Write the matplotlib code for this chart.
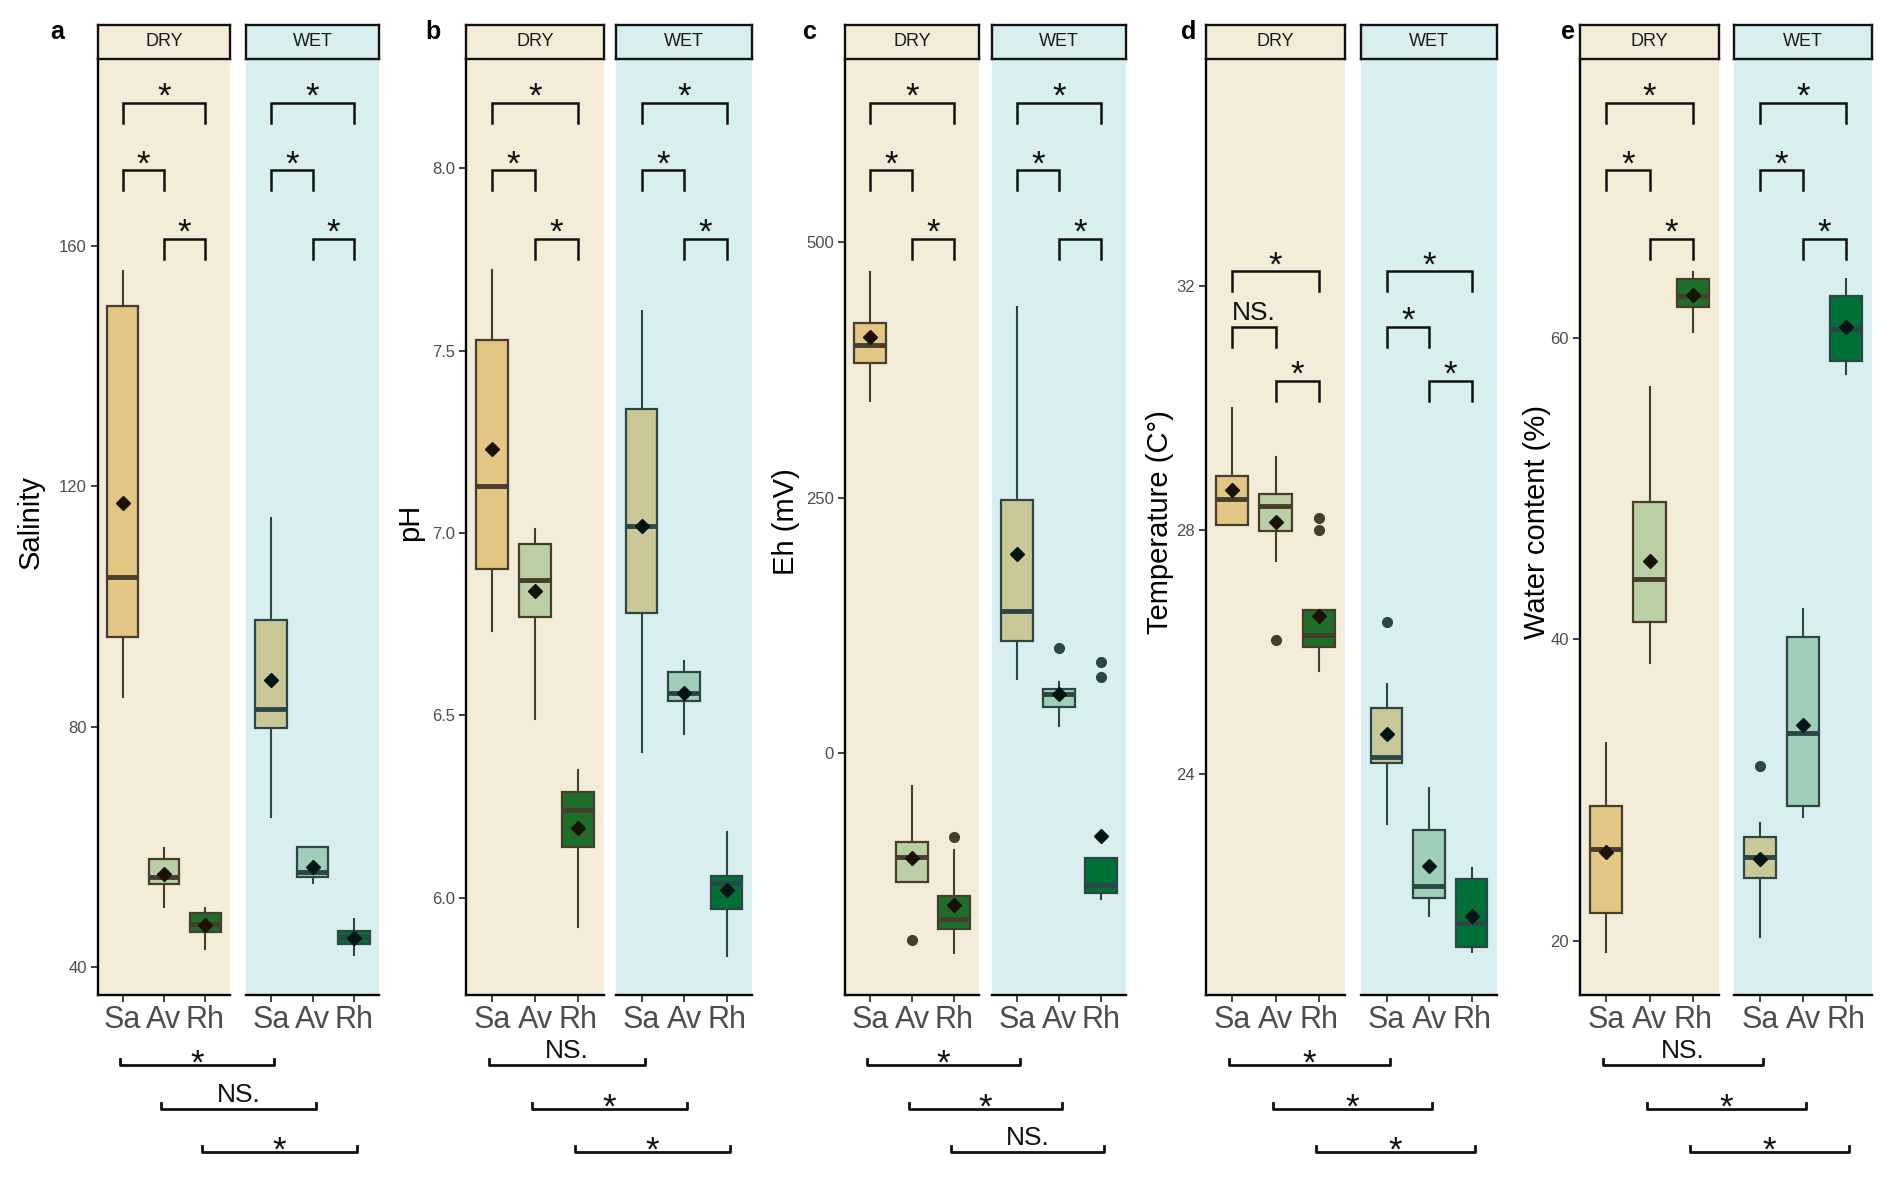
import numpy as np
import matplotlib
matplotlib.use("Agg")
import matplotlib.pyplot as plt

plt.rcParams['font.family'] = ['Liberation Sans', 'DejaVu Sans']

plants = ['Sa', 'Av', 'Rh']
seasons = ['DRY', 'WET']

# box stats per plant: [whisker low, q1, median, q3, whisker high]
sal_dry = [[84.9, 94.9, 104.9, 150.0, 155.9], [50.0, 53.8, 54.9, 58.0, 59.8], [43.0, 45.8, 47.1, 48.9, 49.8]]
sal_dry_mean = [117.2, 55.4, 46.9]
sal_dry_out = [[], [], []]
sal_wet = [[64.9, 79.8, 82.9, 97.8, 114.7], [54.0, 54.9, 55.8, 60.0, 60.0], [42.0, 43.8, 44.9, 46.0, 47.9]]
sal_wet_mean = [87.8, 56.6, 44.8]
sal_wet_out = [[], [], []]

ph_dry = [[6.73, 6.90, 7.13, 7.53, 7.72], [6.49, 6.77, 6.87, 6.97, 7.01], [5.92, 6.14, 6.24, 6.29, 6.35]]
ph_dry_mean = [7.23, 6.84, 6.19]
ph_dry_out = [[], [], []]
ph_wet = [[6.40, 6.78, 7.02, 7.34, 7.61], [6.45, 6.54, 6.56, 6.62, 6.65], [5.84, 5.97, 6.04, 6.06, 6.18]]
ph_wet_mean = [7.02, 6.56, 6.02]
ph_wet_out = [[], [], []]

eh_dry = [[345, 382, 400, 421, 471], [-126, -126, -101, -87, -32], [-195, -172, -162, -140, -95]]
eh_dry_mean = [407, -102, -148]
eh_dry_out = [[], [-183], [-82]]
eh_wet = [[73, 110, 139, 248, 437], [27, 45, 58, 63, 70], [-142, -137, -129, -102, -102]]
eh_wet_mean = [195, 58, -81]
eh_wet_out = [[], [103], [89, 75]]

temp_dry = [[28.09, 28.09, 28.51, 28.89, 29.99], [27.50, 27.99, 28.39, 28.59, 29.19], [25.69, 26.09, 26.29, 26.69, 26.69]]
temp_dry_mean = [28.66, 28.13, 26.60]
temp_dry_out = [[], [26.20], [28.20, 28.00]]
temp_wet = [[23.19, 24.18, 24.29, 25.09, 25.48], [21.69, 21.98, 22.18, 23.09, 23.77], [21.09, 21.17, 21.57, 22.29, 22.47]]
temp_wet_mean = [24.66, 22.50, 21.68]
temp_wet_out = [[26.49], [], []]

wc_dry = [[19.23, 21.86, 26.08, 28.94, 33.10], [38.41, 41.13, 44.02, 49.09, 56.72], [60.41, 62.05, 62.80, 63.93, 64.35]]
wc_dry_mean = [25.87, 45.22, 62.85]
wc_dry_out = [[], [], []]
wc_wet = [[20.22, 24.18, 25.57, 26.88, 27.83], [28.23, 28.94, 33.76, 40.17, 41.99], [57.60, 58.47, 60.59, 62.76, 63.91]]
wc_wet_mean = [25.40, 34.31, 60.74]
wc_wet_out = [[31.61], [], []]

letters = ['a', 'b', 'c', 'd', 'e']
ylabels = ['Salinity', 'pH', 'Eh (mV)', 'Temperature (C°)', 'Water content (%)']
ylims = [(35.3, 191.2), (5.733, 8.30), (-236.4, 679.4), (20.39, 35.71), (16.40, 78.51)]
yticks = [[40, 80, 120, 160], [6.0, 6.5, 7.0, 7.5, 8.0], [0, 250, 500], [24, 28, 32], [20, 40, 60]]
ytick_labels = [['40', '80', '120', '160'], ['6.0', '6.5', '7.0', '7.5', '8.0'],
                ['0', '250', '500'], ['24', '28', '32'], ['20', '40', '60']]

# within-season comparisons: Sa-Rh, Sa-Av, Av-Rh
sig_dry = [['*', '*', '*'], ['*', '*', '*'], ['*', '*', '*'], ['*', 'NS.', '*'], ['*', '*', '*']]
sig_wet = [['*', '*', '*'], ['*', '*', '*'], ['*', '*', '*'], ['*', '*', '*'], ['*', '*', '*']]
# between-season comparisons: Sa, Av, Rh
sig_season = [['*', 'NS.', '*'], ['NS.', '*', '*'], ['*', '*', 'NS.'], ['*', '*', '*'], ['NS.', '*', '*']]

panel_data = [
    [(sal_dry, sal_dry_mean, sal_dry_out), (sal_wet, sal_wet_mean, sal_wet_out)],
    [(ph_dry, ph_dry_mean, ph_dry_out), (ph_wet, ph_wet_mean, ph_wet_out)],
    [(eh_dry, eh_dry_mean, eh_dry_out), (eh_wet, eh_wet_mean, eh_wet_out)],
    [(temp_dry, temp_dry_mean, temp_dry_out), (temp_wet, temp_wet_mean, temp_wet_out)],
    [(wc_dry, wc_dry_mean, wc_dry_out), (wc_wet, wc_wet_mean, wc_wet_out)],
]

# layout (pixels)
W, H = 1892, 1177
facet_px = [[(98, 132), (246, 133)], [(466, 138), (616, 136)], [(845, 134), (992, 134)],
            [(1206, 139), (1361, 136)], [(1580, 139), (1734, 138)]]
ax_top, ax_bot = 59, 995
strip_top = 24.5
bracket_lv = [[0.953, 0.881, 0.808]] * 3 + [[0.773, 0.714, 0.656]] + [[0.953, 0.881, 0.808]]
letter_x = [57, 433, 810, 1189, 1568]
ylab_x = [31, 410, 786, 1160, 1537]
bottom_y = [1065, 1109, 1152]

bg = {'DRY': '#F3ECD9', 'WET': '#D8EEEF'}
fills = {'DRY': ['#E3C683', '#BACFA3', '#1E6E2A'], 'WET': ['#CAC896', '#9FCEB9', '#007039']}
edge = {'DRY': '#463D2C', 'WET': '#2C4646'}
meancol = {'DRY': '#1A1206', 'WET': '#021414'}
grey = '#4D4D4D'

fig = plt.figure(figsize=(W / 100, H / 100), dpi=100)
axh = (ax_bot - ax_top) / H


def fig_x(p, s, x):
    l, w = facet_px[p][s]
    return (l + (x - 0.4) / 3.2 * w) / W


for p in range(5):
    for s, season in enumerate(seasons):
        l, w = facet_px[p][s]
        ax = fig.add_axes([l / W, 1 - ax_bot / H, w / W, axh])
        ax.set_facecolor(bg[season])
        q, m, o = panel_data[p][s]
        stats = []
        for i in range(3):
            stats.append(dict(whislo=q[i][0], q1=q[i][1], med=q[i][2], q3=q[i][3],
                              whishi=q[i][4], mean=m[i], fliers=o[i]))
        ec = edge[season]
        bp = ax.bxp(stats, positions=[1, 2, 3], widths=0.75, patch_artist=True,
                    showcaps=False, showmeans=True,
                    boxprops=dict(edgecolor=ec, linewidth=1.6),
                    medianprops=dict(color=ec, linewidth=3.5, solid_capstyle='butt'),
                    whiskerprops=dict(color=ec, linewidth=1.5),
                    flierprops=dict(marker='o', markerfacecolor=ec, markeredgecolor=ec, markersize=7),
                    meanprops=dict(marker='D', markerfacecolor=meancol[season],
                                   markeredgecolor=meancol[season], markersize=7.5))
        for patch, fc in zip(bp['boxes'], fills[season]):
            patch.set_facecolor(fc)

        ax.set_xlim(0.4, 3.6)
        ax.set_ylim(*ylims[p])
        ax.set_xticks([1, 2, 3])
        ax.set_xticklabels(plants, fontsize=22, color=grey)
        ax.spines['top'].set_visible(False)
        ax.spines['right'].set_visible(False)
        ax.spines['bottom'].set_linewidth(1.7)
        ax.spines['left'].set_linewidth(1.7)
        ax.tick_params(axis='x', length=5, width=1.3, color='#333333', pad=2)
        if s == 0:
            ax.set_yticks(yticks[p])
            ax.set_yticklabels(ytick_labels[p], fontsize=12, color=grey)
            ax.tick_params(axis='y', length=5, width=1.3, color='#333333', pad=3)
        else:
            ax.spines['left'].set_visible(False)
            ax.set_yticks([])

        # significance brackets inside the facet
        sig = sig_dry[p] if s == 0 else sig_wet[p]
        pairs = [(1, 3), (1, 2), (2, 3)]
        tr = ax.get_xaxis_transform()
        leg = 20 / (ax_bot - ax_top)
        for (x1, x2), h, lab in zip(pairs, bracket_lv[p], sig):
            ax.plot([x1, x1, x2, x2], [h - leg, h, h, h - leg], transform=tr,
                    color='#111111', lw=1.8, clip_on=False, solid_joinstyle='miter')
            if lab == '*':
                ax.text((x1 + x2) / 2, h - 4 / (ax_bot - ax_top), lab, transform=tr,
                        ha='center', va='baseline', fontsize=25, color='#111111')
            else:
                ax.text((x1 + x2) / 2, h + 7 / (ax_bot - ax_top), lab, transform=tr,
                        ha='center', va='baseline', fontsize=19, color='#111111')

        # strip on top
        sax = fig.add_axes([l / W, 1 - ax_top / H, w / W, (ax_top - strip_top) / H])
        sax.set_facecolor(bg[season])
        sax.set_xticks([])
        sax.set_yticks([])
        for sp in sax.spines.values():
            sp.set_linewidth(1.7)
            sp.set_color('#111111')
        sax.text(0.5, 0.5, season, ha='center', va='center', fontsize=13, color='#1A1A1A',
                 transform=sax.transAxes)

    # between-season brackets under the axis
    for i in range(3):
        x1 = fig_x(p, 0, i + 1) - 3 / W
        x2 = fig_x(p, 1, i + 1) + 3 / W
        yb = 1 - bottom_y[i] / H
        tip = 6 / H
        fig.add_artist(plt.Line2D([x1, x1, x2, x2], [yb + tip, yb, yb, yb + tip],
                                  transform=fig.transFigure, color='#111111', lw=2.0))
        lab = sig_season[p][i]
        if lab == '*':
            fig.text((x1 + x2) / 2, yb - 9 / H, lab, ha='center', va='baseline', fontsize=25,
                     color='#111111')
        else:
            fig.text((x1 + x2) / 2, yb + 7 / H, lab, ha='center', va='baseline', fontsize=19,
                     color='#111111')

    fig.text(letter_x[p] / W, 1 - 32 / H, letters[p], fontsize=18, fontweight='bold',
             ha='center', va='center')
    fig.text(ylab_x[p] / W, 1 - 522 / H, ylabels[p], fontsize=21, rotation=90,
             ha='center', va='center')

fig.savefig('out.png', dpi=100)
